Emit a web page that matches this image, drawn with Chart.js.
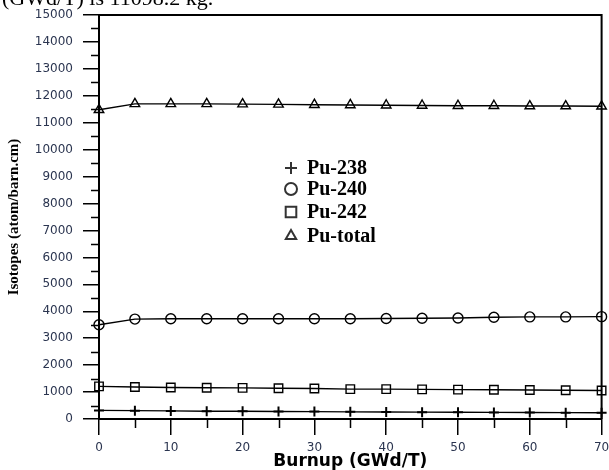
<!DOCTYPE html>
<html><head><meta charset="utf-8">
<script src="https://cdn.jsdelivr.net/npm/chart.js@4.4.0/dist/chart.umd.min.js"></script>
<style>
html,body{margin:0;padding:0;background:#fff;overflow:hidden}
#wrap{position:relative;width:609px;height:470px;overflow:hidden;background:#fff}
#cap{position:absolute;left:2px;top:-13px;font:22px/22px "Liberation Serif","Times New Roman",serif;color:#000;white-space:nowrap}
canvas{position:absolute;left:0;top:0}
</style></head><body>
<div id="wrap"><canvas id="c" width="609" height="470"></canvas><div id="cap">(GWd/T) is 11098.2 kg.</div></div>
<script>
// ---- data ----
const burnup  = [0, 5, 10, 15, 20, 25, 30, 35, 40, 45, 50, 55, 60, 65, 70];
const pu238   = [320, 310, 300, 290, 285, 280, 275, 265, 260, 255, 250, 245, 240, 235, 230];
const pu240   = [3500, 3710, 3720, 3720, 3720, 3720, 3720, 3720, 3730, 3740, 3750, 3780, 3790, 3790, 3800];
const pu242   = [1210, 1190, 1170, 1160, 1155, 1140, 1130, 1110, 1110, 1100, 1090, 1085, 1075, 1065, 1060];
const puTotal = [11480, 11700, 11700, 11700, 11690, 11680, 11670, 11660, 11650, 11640, 11630, 11630, 11620, 11620, 11610];
const seriesLabels = ['Pu-238', 'Pu-240', 'Pu-242', 'Pu-total'];
const seriesStyles = ['cross', 'circle', 'rect', 'triangle'];
const xTitle = 'Burnup (GWd/T)';
const yTitle = 'Isotopes (atom/barn.cm)';

const seriesValues = [pu238, pu240, pu242, puTotal];
const radii = [5, 5, 6, 5.5];
const pbw = [2, 1.4, 1.4, 1.4];

const datasets = seriesValues.map((vals, i) => ({
  label: seriesLabels[i],
  data: burnup.map((b, j) => ({x: b, y: vals[j]})),
  borderColor: '#000',
  borderWidth: 1.4,
  backgroundColor: 'rgba(0,0,0,0)',
  pointStyle: seriesStyles[i],
  pointRadius: radii[i],
  pointBorderWidth: pbw[i],
  pointBorderColor: '#000',
  pointBackgroundColor: 'rgba(0,0,0,0)',
  tension: 0,
  clip: false
}));

const extras = {
  id: 'extras',
  afterDraw(chart) {
    const {ctx, chartArea: a, scales: {x, y}} = chart;
    ctx.save();
    ctx.strokeStyle = '#000';
    ctx.lineWidth = 1.5;
    ctx.beginPath();
    for (let v = 500; v < 15000; v += 1000) {
      const p = Math.round(y.getPixelForValue(v)) + 0.5;
      ctx.moveTo(a.left - 8, p); ctx.lineTo(a.left, p);
    }
    for (let v = 5; v < 70; v += 10) {
      const p = Math.round(x.getPixelForValue(v)) + 0.5;
      ctx.moveTo(p, a.bottom); ctx.lineTo(p, a.bottom + 9);
    }
    ctx.stroke();
    ctx.lineWidth = 2;
    ctx.beginPath();
    ctx.moveTo(a.left, a.top); ctx.lineTo(a.right, a.top); ctx.lineTo(a.right, a.bottom);
    ctx.stroke();

    // legend
    const lx = 291, tx = 307, rows = [168, 189, 212, 236];
    chart.data.datasets.forEach((ds, i) => {
      ctx.strokeStyle = '#333';
      ctx.fillStyle = 'rgba(0,0,0,0)';
      Chart.helpers.drawPoint(ctx, {pointStyle: ds.pointStyle, radius: ds.pointStyle === 'rect' ? 7.5 : 6, borderWidth: 1.1, rotation: 0}, lx, rows[i]);
      ctx.fillStyle = '#000';
      ctx.font = 'bold 20px "Liberation Serif", "Times New Roman", serif';
      ctx.textBaseline = 'middle';
      ctx.textAlign = 'left';
      ctx.fillText(ds.label, tx, rows[i] + 1);
    });
    ctx.restore();
  }
};

const tickFont = {family: 'DejaVu Sans', size: 12};
new Chart(document.getElementById('c'), {
  type: 'line',
  data: {datasets},
  plugins: [extras],
  options: {
    responsive: false,
    animation: false,
    layout: {padding: {top: 15, right: 7, left: 0, bottom: 0}},
    plugins: {legend: {display: false}, tooltip: {enabled: false}},
    scales: {
      x: {
        type: 'linear', min: 0, max: 70,
        ticks: {stepSize: 10, color: '#2b3550', font: tickFont, padding: 6, callback: v => String(v)},
        grid: {drawOnChartArea: false, drawTicks: true, tickLength: 16, color: '#000', lineWidth: 1.5},
        border: {display: true, color: '#000', width: 2},
        title: {display: true, text: xTitle, color: '#000', font: {family: 'DejaVu Sans', weight: 'bold', size: 17, lineHeight: 1}, padding: {top: 0, bottom: 0}},
        afterFit(s) { s.height = 51; s.paddingLeft = 0; s.paddingRight = 0; }
      },
      y: {
        type: 'linear', min: 0, max: 15000,
        ticks: {stepSize: 1000, color: '#2b3550', font: tickFont, padding: 10, callback: v => String(v)},
        grid: {drawOnChartArea: false, drawTicks: true, tickLength: 16, color: '#000', lineWidth: 1.5},
        border: {display: true, color: '#000', width: 2},
        title: {display: true, text: yTitle, color: '#000', font: {family: 'Liberation Serif', weight: 'bold', size: 15, lineHeight: 1}, padding: {top: 7, bottom: 0}},
        afterFit(s) { s.width = 99; s.paddingTop = 0; s.paddingBottom = 0; }
      }
    }
  }
});
</script>
</body></html>
